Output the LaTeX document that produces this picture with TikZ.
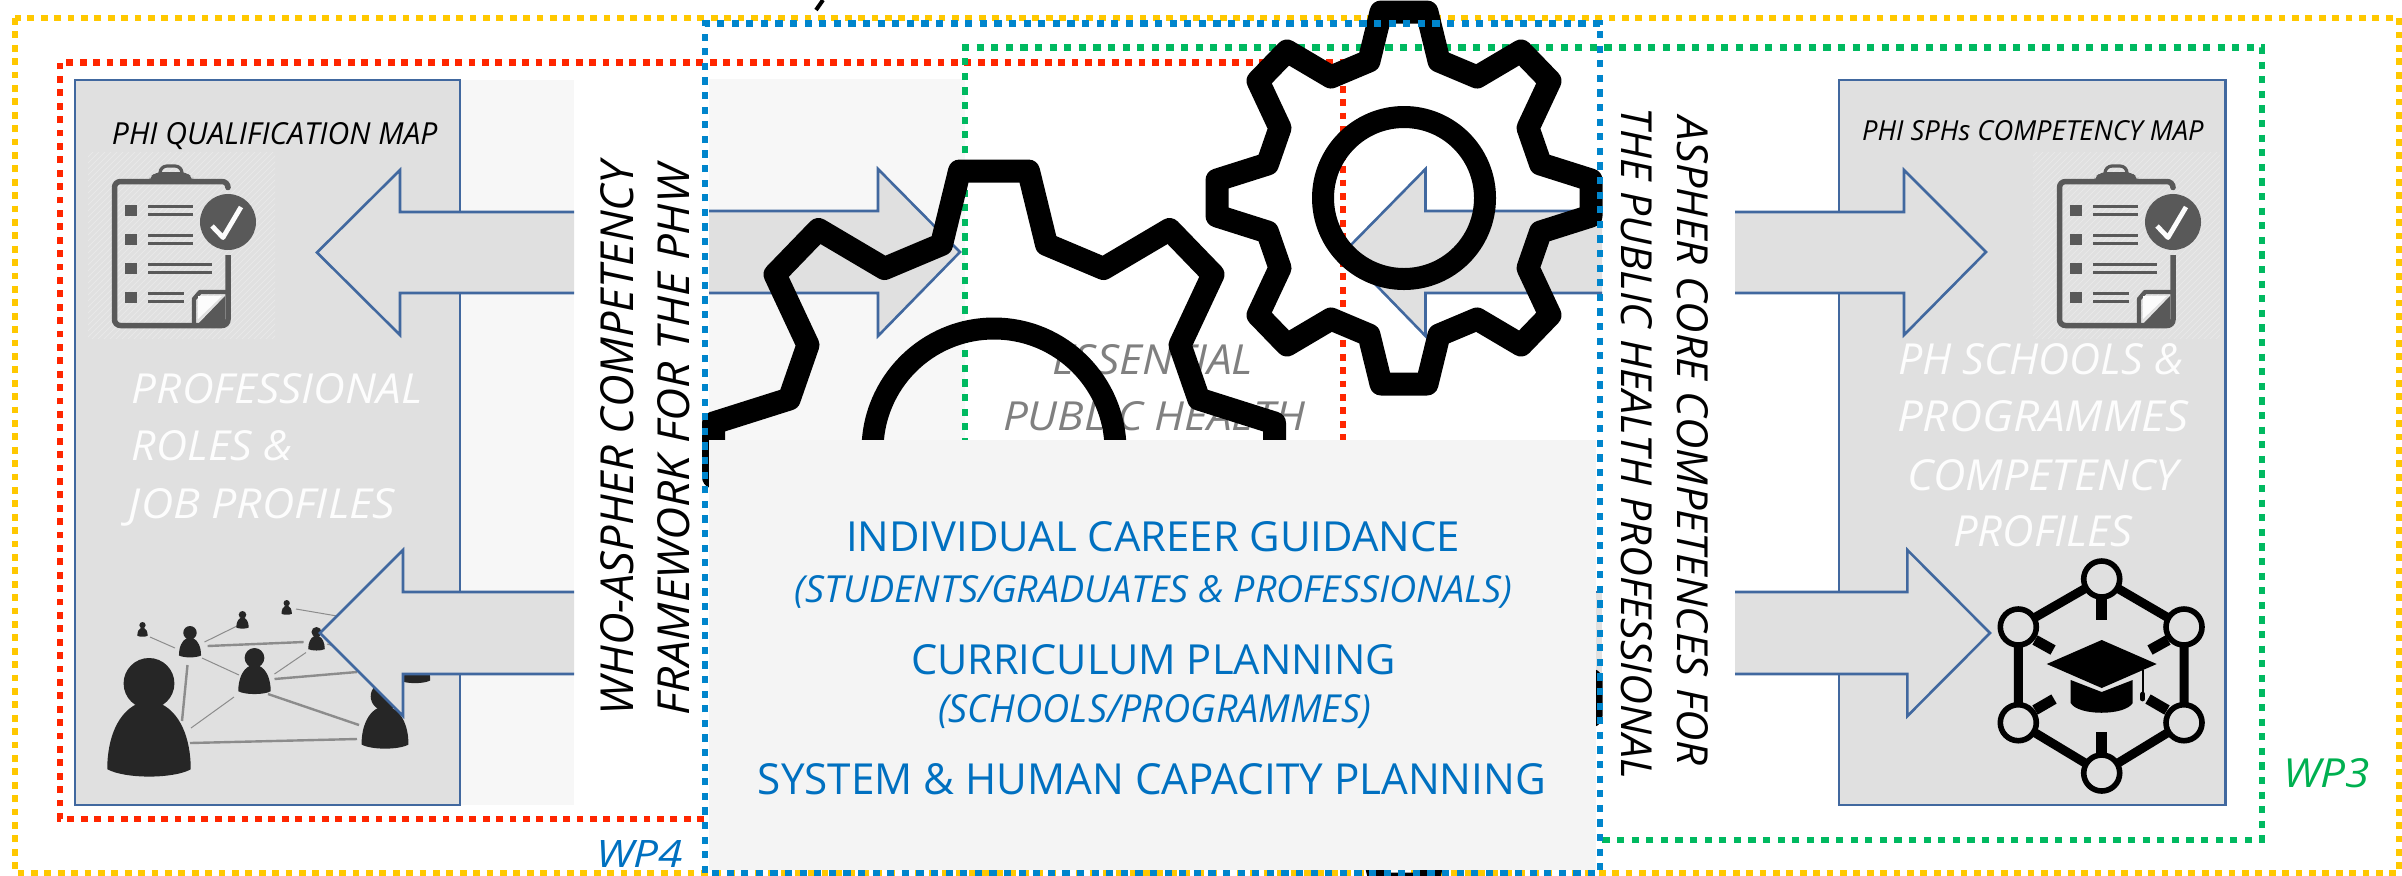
\documentclass[tikz,border=0pt]{standalone}
\usepackage{fontspec}
\usepackage{graphicx}
\setmainfont{Open Sans}
\usetikzlibrary{patterns}
\newdimen\pxu \pxu=0.5pt
\newcommand{\fitbox}[3]{\resizebox{#1\pxu}{#2\pxu}{#3}}
\definecolor{cyel}{HTML}{FFC800}
\definecolor{cred}{HTML}{FF2600}
\definecolor{cblu}{HTML}{0085CC}
\definecolor{cgrn}{HTML}{00B960}
\definecolor{ctxtb}{HTML}{0070C0}
\definecolor{ctxtg}{HTML}{00B050}
\definecolor{cedge}{HTML}{41689F}
\definecolor{cpanel}{HTML}{E0E0E0}
\definecolor{clight}{HTML}{F7F7F7}
\definecolor{cmid}{HTML}{F4F4F4}
\definecolor{cicon}{HTML}{595959}
\definecolor{cperson}{HTML}{262626}
\definecolor{cwire}{HTML}{8C8C8C}
\definecolor{chatch}{HTML}{E8E8E8}
\tikzset{
  wp/.style={line width=3.4pt,dash pattern=on 3.4pt off 3.3pt},
  wpwide/.style={line width=3.4pt,dash pattern=on 3.6pt off 3.7pt},
  panelbox/.style={fill=cpanel,draw=cedge,line width=1.3pt},
  shaftfill/.style={fill=cpanel},
  shaftline/.style={draw=cedge,line width=1.3pt,line join=miter},
  gearline/.style={draw=black,line width=11.5pt,line join=round},
  lbl/.style={inner sep=0pt,outer sep=0pt,anchor=base},
  wire/.style={draw=cwire,line width=.5pt},
  wirethick/.style={draw=cwire,line width=1.2pt},
  hexline/.style={draw=black,line width=4.5pt},
  hexnode/.style={draw=black,fill=cpanel,line width=2.8pt},
  hexspoke/.style={draw=black,line width=5.3pt},
}
\newcommand{\geartrace}{(23,-186)--(35,-137)--(73,-121)--(117,-147)--(146,-117)--(124,-70)--(136.5,-34)--(187,-18)--(187,18)--(136.5,34)--(124,70)--(146,117)--(117,147)--(73,121)--(35,137)--(23,186)--(-23,186)--(-35,137)--(-73,121)--(-117,147)--(-146,117)--(-124,70)--(-136.5,34)--(-187,18)--(-187,-18)--(-136.5,-34)--(-124,-70)--(-146,-117)--(-117,-147)--(-73,-121)--(-35,-137)--(-23,-186)--cycle}
\newcommand{\gearat}[3]{\begin{scope}[shift={(#1,#2)},scale=#3]
  \draw[gearline] \geartrace;
  \draw[gearline,line width=11pt] (0,0) circle (81);
\end{scope}}
\newcommand{\personat}[3]{\begin{scope}[shift={(#1,#2)},scale=#3]
  \fill[cperson] (0,.21) circle (.21);
  \fill[cperson] (-.345,.92) .. controls (-.345,.65) and (-.25,.45) .. (-.1,.38) -- (.1,.38) .. controls (.25,.45) and (.345,.65) .. (.345,.92) .. controls (.2,1.0) and (-.2,1.0) .. cycle;
\end{scope}}
\newcommand{\clipicon}[1]{\begin{scope}[shift={(#1,0)}]
  \fill[pattern=north east lines,pattern color=chatch] (88,152) rectangle (275,338);
  \draw[cicon,line width=2.75pt,line join=round,rounded corners=3pt] (228,187) -- (228,181.5) -- (114.5,181.5) -- (114.5,325.5) -- (228,325.5) -- (228,255);
  \fill[cicon,rounded corners=3pt] (149,183) -- (149,178) -- (156,172) -- (186,172) -- (193,178) -- (193,183) -- cycle;
  \draw[cicon,line width=1.6pt,rounded corners=3.5pt] (160,176) -- (160,166) -- (182,166) -- (182,176);
  \foreach \yy in {204.5,233.5,262.5,291.5} \fill[cicon] (125,\yy) rectangle (137,\yy+11.5);
  \foreach \yy/\xe in {206/193,235/193,264/212,293/184}{
    \draw[cicon,line width=1.2pt] (148,\yy+.5) -- (\xe,\yy+.5);
    \draw[cicon,line width=1.2pt] (148,\yy+8.5) -- (\xe,\yy+8.5);
  }
  \fill[cicon] (228,222) circle (28);
  \draw[white!90!cpanel,line width=2.4pt,line join=round] (212,226) -- (223,237.5) -- (241,207);
  \draw[cicon,line width=2.2pt,line join=round] (194,326) -- (194,299) -- (200,292) -- (228,292);
  \fill[cicon] (225,296) -- (225,324) -- (198,324) -- cycle;
  \fill[white!90!cpanel] (198,296) -- (222,296) -- (198,319) -- cycle;
\end{scope}}
\begin{document}
\begin{tikzpicture}[x=.5pt,y=-.5pt]
\useasboundingbox (0,0) rectangle (2402,875);
\clip (0,0) rectangle (2402,875);
% light strips
\fill[clight] (460,80) rectangle (574,805);
\fill[clight] (709,79) rectangle (965,445);
% frames behind the gears
\draw[wp,cyel] (15,18) rectangle (2399,873);
\draw[wp,cred] (704,819) -- (60,819) -- (60,62.5) -- (1343,62.5) -- (1343,445);
\draw[wpwide,cgrn] (965,445) -- (965,47.7) -- (2262,47.7) -- (2262,840) -- (1600,840);
% side panels
\draw[panelbox] (75,80) rectangle (460,805);
\draw[panelbox] (1839,80) rectangle (2225.5,805);
% icons
\clipicon{0}
\clipicon{1945}
% network
\draw[wire] (150,637) -- (175,648);
\draw[wire] (204.5,642) -- (237,626);
\draw[wirethick] (207.6,646) -- (303.6,642);
\draw[wire] (202,658) -- (239,675);
\draw[wirethick] (187.5,665) -- (182,721);
\draw[wire] (234,697) -- (191,728);
\draw[wirethick] (268,694) -- (359,725);
\draw[wirethick] (190,743) -- (357,739);
\draw[wirethick] (274.5,679) -- (357,672);
\draw[wire] (274.5,674) -- (306,652.5);
\draw[wire] (296,609) -- (337,616);
\draw[wire] (327,644) -- (340,648);
\personat{149}{658}{121}
\personat{385}{682}{68}
\personat{254.5}{648}{47}
\personat{190}{626}{32}
\personat{316.5}{627}{24}
\personat{242.5}{611}{18}
\personat{286.7}{600}{15}
\personat{142.5}{622}{15}
\personat{415}{640}{44}
% graduation network
\draw[hexline] (2101.7,579) -- (2184,627) -- (2184,722.7) -- (2101.7,773) -- (2018.3,722.7) -- (2018.3,627) -- cycle;
\draw[hexspoke] (2101.7,595) -- (2101.7,620);
\draw[hexspoke] (2101.7,732) -- (2101.7,757);
\draw[hexspoke] (2035,640) -- (2053,650);
\draw[hexspoke] (2168,640) -- (2150,650);
\draw[hexspoke] (2035,710) -- (2054,699);
\draw[hexspoke] (2167,710) -- (2148,699);
\draw[hexnode] (2101.7,579) circle (18);
\draw[hexnode] (2184,627) circle (18);
\draw[hexnode] (2184,722.7) circle (18);
\draw[hexnode] (2101.7,773) circle (18);
\draw[hexnode] (2018.3,722.7) circle (18);
\draw[hexnode] (2018.3,627) circle (18);
\fill[black] (2070.7,680) -- (2101.7,692) -- (2132.7,680) -- (2132.7,703) .. controls (2125,716) and (2078,716) .. (2070.7,703) -- cycle;
\fill[black] (2046.7,664) -- (2101.7,640) -- (2156.7,664) -- (2101.7,688) -- cycle;
\draw[black,line width=1pt] (2142.7,670) -- (2142.7,694);
\draw[black,line width=2.4pt,line cap=round] (2142.7,694) -- (2142.7,699);
% arrows
\fill[shaftfill] (574,212) -- (400,212) -- (400,170) -- (317,252.5) -- (400,335) -- (400,293) -- (574,293) -- cycle;
\draw[shaftline] (574,212) -- (400,212) -- (400,170) -- (317,252.5) -- (400,335) -- (400,293) -- (574,293);
\fill[shaftfill] (574,592) -- (403,592) -- (403,550) -- (320,633) -- (403,716) -- (403,674) -- (574,674) -- cycle;
\draw[shaftline] (574,592) -- (403,592) -- (403,550) -- (320,633) -- (403,716) -- (403,674) -- (574,674);
\fill[shaftfill] (709,211) -- (878,211) -- (878,169) -- (960,252) -- (878,336) -- (878,293) -- (709,293) -- cycle;
\draw[shaftline] (709,211) -- (878,211) -- (878,169) -- (960,252) -- (878,336) -- (878,293) -- (709,293);
\fill[shaftfill] (1602,211) -- (1425.5,211) -- (1425.5,169) -- (1344,252) -- (1425.5,336) -- (1425.5,293) -- (1602,293) -- cycle;
\draw[shaftline] (1602,211) -- (1425.5,211) -- (1425.5,169) -- (1344,252) -- (1425.5,336) -- (1425.5,293) -- (1602,293);
\fill[shaftfill] (1560,592) rectangle (1602,674);
\draw[shaftline] (1560,592) -- (1602,592);
\draw[shaftline] (1560,674) -- (1602,674);
\fill[shaftfill] (1735,212) -- (1904,212) -- (1904,170) -- (1986,252) -- (1904,335) -- (1904,293) -- (1735,293) -- cycle;
\draw[shaftline] (1735,212) -- (1904,212) -- (1904,170) -- (1986,252) -- (1904,335) -- (1904,293) -- (1735,293);
\fill[shaftfill] (1735,592) -- (1907.4,592) -- (1907.4,550) -- (1990,633) -- (1907.4,716) -- (1907.4,674) -- (1735,674) -- cycle;
\draw[shaftline] (1735,592) -- (1907.4,592) -- (1907.4,550) -- (1990,633) -- (1907.4,716) -- (1907.4,674) -- (1735,674);
% panel texts
\node[lbl,text=black] (qualmap) at (274.7,144) {\fitbox{325.5}{22}{\itshape PHI QUALIFICATION MAP}};
\node[lbl,text=white!95!cpanel] (roles1) at (277,403) {\fitbox{290}{30}{\itshape PROFESSIONAL}};
\node[lbl,text=white!95!cpanel] (roles2) at (212,460) {\fitbox{160}{30}{\itshape ROLES \&}};
\node[lbl,text=white!95!cpanel] (roles3) at (262,518) {\fitbox{266}{30}{\itshape JOB PROFILES}};
\node[lbl,text=black] (sphmap) at (2032.8,140.8) {\fitbox{341.6}{20}{\itshape PHI SPHs COMPETENCY MAP}};
\node[lbl,text=white!95!cpanel] (ph1) at (2040.5,374) {\fitbox{285}{31}{\itshape PH SCHOOLS \&}};
\node[lbl,text=white!95!cpanel] (ph2) at (2042.5,431) {\fitbox{291}{31}{\itshape PROGRAMMES}};
\node[lbl,text=white!95!cpanel] (ph3) at (2042.5,490) {\fitbox{271}{31}{\itshape COMPETENCY}};
\node[lbl,text=white!95!cpanel] (ph4) at (2042.5,546) {\fitbox{179}{31}{\itshape PROFILES}};
% rotated texts
\node[lbl,rotate=90,text=black] (who1) at (633,438.5) {\fitbox{553}{33}{\itshape WHO-ASPHER COMPETENCY}};
\node[lbl,rotate=90,text=black] (who2) at (689,440) {\fitbox{550}{32}{\itshape FRAMEWORK FOR THE PHW}};
\node[lbl,rotate=-90,text=black] (asp1) at (1677,441) {\fitbox{648}{31}{\itshape ASPHER CORE COMPETENCES FOR}};
\node[lbl,rotate=-90,text=black] (asp2) at (1621.5,443.5) {\fitbox{671}{31}{\itshape THE PUBLIC HEALTH PROFESSIONAL}};
% grey centre text
\node[lbl,text=black!50] (ess1) at (1152.5,374) {\fitbox{201}{30}{\itshape ESSENTIAL}};
\node[lbl,text=black!50] (ess2) at (1154,430) {\fitbox{302}{29}{\itshape PUBLIC HEALTH}};
% gears
\gearat{1404}{198}{1}
\gearat{994}{450}{1.5}
\gearat{1404}{698}{1}
% top stray stroke
\draw[black,line width=2pt] (823,0) -- (816,10);
% blue frame
\draw[wpwide,cblu] (705,873) -- (705,23.5) -- (1600,23.5) -- (1600,873) -- cycle;
% centre panel
\fill[cmid] (709,440) rectangle (1596,870);
\node[lbl,text=ctxtb] (c1) at (1153,551) {\fitbox{614}{30}{INDIVIDUAL CAREER GUIDANCE}};
\node[lbl,text=ctxtb] (c2) at (1153.5,602) {\fitbox{717}{27}{\itshape (STUDENTS/GRADUATES \& PROFESSIONALS)}};
\node[lbl,text=ctxtb] (c3) at (1153.5,674) {\fitbox{485}{30}{CURRICULUM PLANNING}};
\node[lbl,text=ctxtb] (c4) at (1154.5,722) {\fitbox{433}{28}{\itshape (SCHOOLS/PROGRAMMES)}};
\node[lbl,text=ctxtb] (c5) at (1152,794) {\fitbox{788}{31}{SYSTEM \& HUMAN CAPACITY PLANNING}};
% work package labels
\node[lbl,text=ctxtb] (wp4) at (639.5,867) {\fitbox{87}{27}{\itshape WP4}};
\node[lbl,text=ctxtg] (wp3) at (2326.5,787) {\fitbox{87}{29}{\itshape WP3}};
\end{tikzpicture}
\end{document}
